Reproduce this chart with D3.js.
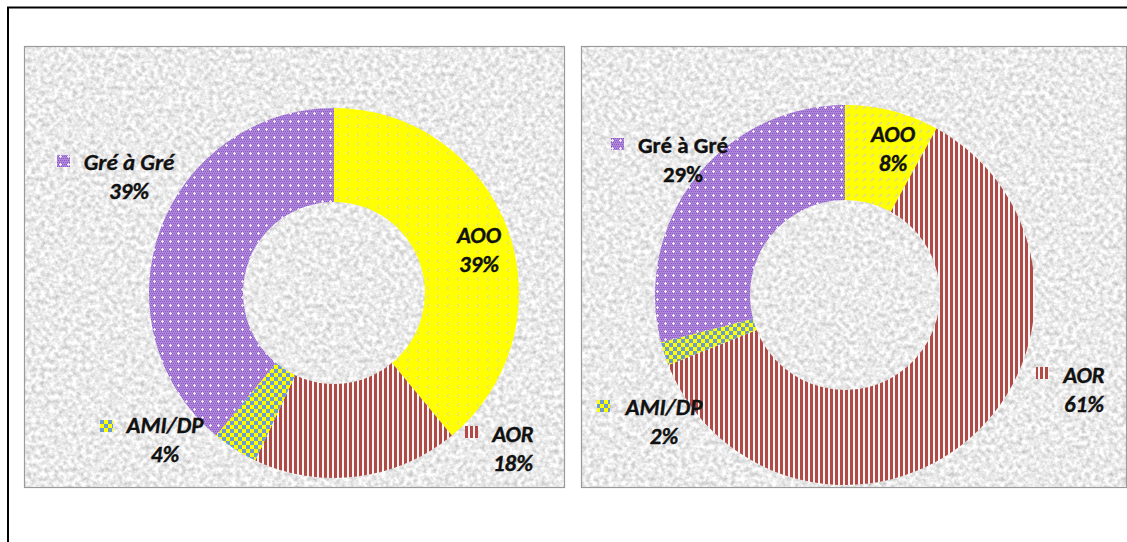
<!DOCTYPE html>
<html>
<head>
<meta charset="utf-8">
<script src="https://cdn.jsdelivr.net/npm/d3@7/dist/d3.min.js"></script>
<style>
  html, body { margin: 0; padding: 0; background: #fff; }
  svg { display: block; }
  text { font-family: Carlito, Lato, "Open Sans", sans-serif; font-weight: bold; fill: #111; }
</style>
</head>
<body>
<svg id="chart" width="1127" height="542"></svg>
<script>
// Procurement method shares, two periods
const categories = ["AOO", "AOR", "AMI/DP", "Gré à Gré"];
const valuesLeft = [39, 18, 4, 39];
const valuesRight = [8, 61, 2, 29];

// Pattern id per category (left and right donuts use slightly different AOO hatching)
const patternLeft = ["pAOO1", "pAOR", "pAMI", "pGre"];
const patternRight = ["pAOO2", "pAOR", "pAMI", "pGre"];

const svg = d3.select("#chart");
const defs = svg.append("defs");

// Granite-like plot area texture
const tex = defs.append("filter").attr("id", "granite")
  .attr("x", 0).attr("y", 0).attr("width", 1).attr("height", 1)
  .attr("color-interpolation-filters", "sRGB");
tex.append("feTurbulence").attr("type", "fractalNoise")
  .attr("baseFrequency", 0.22).attr("numOctaves", 3).attr("seed", 7).attr("result", "n");
tex.append("feColorMatrix").attr("type", "matrix")
  .attr("values", "0.42 0 0 0 0.71  0.42 0 0 0 0.71  0.42 0 0 0 0.71  0 0 0 0 1");
tex.append("feGaussianBlur").attr("stdDeviation", 0.5);

// Fill patterns
function pattern(id, w, h) {
  return defs.append("pattern").attr("id", id).attr("patternUnits", "userSpaceOnUse")
    .attr("width", w).attr("height", h);
}
// purple: fine lattice with white crosses
{
  const p = pattern("pGre", 8, 8);
  p.append("rect").attr("width", 8).attr("height", 8).attr("fill", "#ad86da");
  for (let y = 0; y < 8; y += 2) for (let x = (y % 4 === 0 ? 0 : 1); x < 8; x += 2)
    p.append("rect").attr("x", x).attr("y", y).attr("width", 1).attr("height", 1).attr("fill", "#8c58c6");
  p.append("rect").attr("x", 3).attr("y", 4).attr("width", 3).attr("height", 1).attr("fill", "#f3ecfa");
  p.append("rect").attr("x", 4).attr("y", 3).attr("width", 1).attr("height", 3).attr("fill", "#f3ecfa");
}
// red vertical stripes
{
  const p = pattern("pAOR", 5, 5);
  p.append("rect").attr("width", 5).attr("height", 5).attr("fill", "#fbf6f6");
  p.append("rect").attr("x", 0).attr("width", 3).attr("height", 5).attr("fill", "#b14a47");
}
// yellow / blue checkerboard
{
  const p = pattern("pAMI", 8, 8);
  p.append("rect").attr("width", 8).attr("height", 8).attr("fill", "#ffff00");
  p.append("rect").attr("x", 0).attr("y", 0).attr("width", 4).attr("height", 4).attr("fill", "#6c9bd0");
  p.append("rect").attr("x", 4).attr("y", 4).attr("width", 4).attr("height", 4).attr("fill", "#6c9bd0");
}
// yellow with small chevrons
{
  const p = pattern("pAOO1", 10, 9);
  p.append("rect").attr("width", 10).attr("height", 9).attr("fill", "#ffff00");
  p.append("path").attr("d", "M5,2 L3,4 L5,6").attr("fill", "none")
    .attr("stroke", "#d6dca4").attr("stroke-width", 1);
}
// yellow with diagonal dashes
{
  const p = pattern("pAOO2", 8, 8);
  p.append("rect").attr("width", 8).attr("height", 8).attr("fill", "#ffff00");
  p.append("path").attr("d", "M2,6 L5,3").attr("fill", "none")
    .attr("stroke", "#d6dca4").attr("stroke-width", 1.2);
}

// Outer frame
svg.append("path").attr("d", "M8,1200 L8,7.5 L1200,7.5")
  .attr("fill", "none").attr("stroke", "#000").attr("stroke-width", 2);

// Panels
const panels = [
  { x: 24.5, y: 46.5, w: 540, h: 441, cx: 334, cy: 293, R: 185, r: 91,
    values: valuesLeft, patterns: patternLeft,
    labels: [
      { x: 479, y: 243, italic: true, key: null },
      { x: 513, y: 442, italic: true, key: [465, 426] },
      { x: 165, y: 433, italic: true, key: [100, 420] },
      { x: 129, y: 170, italic: true, key: [57, 155] }
    ] },
  { x: 581.5, y: 46.5, w: 545, h: 441, cx: 845, cy: 295, R: 190, r: 95,
    values: valuesRight, patterns: patternRight,
    labels: [
      { x: 893, y: 142, italic: true, key: null },
      { x: 1084, y: 383, italic: true, key: [1036, 367] },
      { x: 664, y: 415, italic: true, key: [597, 400] },
      { x: 683, y: 153, italic: false, key: [611, 138] }
    ] }
];

const pie = d3.pie().sort(null).value(d => d);

panels.forEach(pn => {
  const g = svg.append("g");
  g.append("rect").attr("x", pn.x).attr("y", pn.y).attr("width", pn.w).attr("height", pn.h)
    .attr("fill", "#e6e6e6").attr("filter", "url(#granite)");
  g.append("rect").attr("x", pn.x).attr("y", pn.y).attr("width", pn.w).attr("height", pn.h)
    .attr("fill", "none").attr("stroke", "#9a9a9a").attr("stroke-width", 1.2);

  const arc = d3.arc().innerRadius(pn.r).outerRadius(pn.R);
  g.append("g").attr("transform", `translate(${pn.cx},${pn.cy})`)
    .selectAll("path").data(pie(pn.values)).join("path")
    .attr("d", arc)
    .attr("fill", (d, i) => `url(#${pn.patterns[i]})`);

  pn.labels.forEach((lb, i) => {
    const t = g.append("text").attr("text-anchor", "middle")
      .attr("font-size", 23)
      .attr("font-style", lb.italic ? "italic" : "normal")
      .attr("stroke", "#111").attr("stroke-width", 0.35);
    t.append("tspan").attr("x", lb.x).attr("y", lb.y).text(categories[i]);
    t.append("tspan").attr("x", lb.x).attr("y", lb.y + 29).text(pn.values[i] + "%");
    if (lb.key) {
      g.append("rect").attr("x", lb.key[0]).attr("y", lb.key[1])
        .attr("width", 13).attr("height", 12)
        .attr("fill", `url(#${pn.patterns[i]})`);
    }
  });
});
</script>
</body>
</html>
